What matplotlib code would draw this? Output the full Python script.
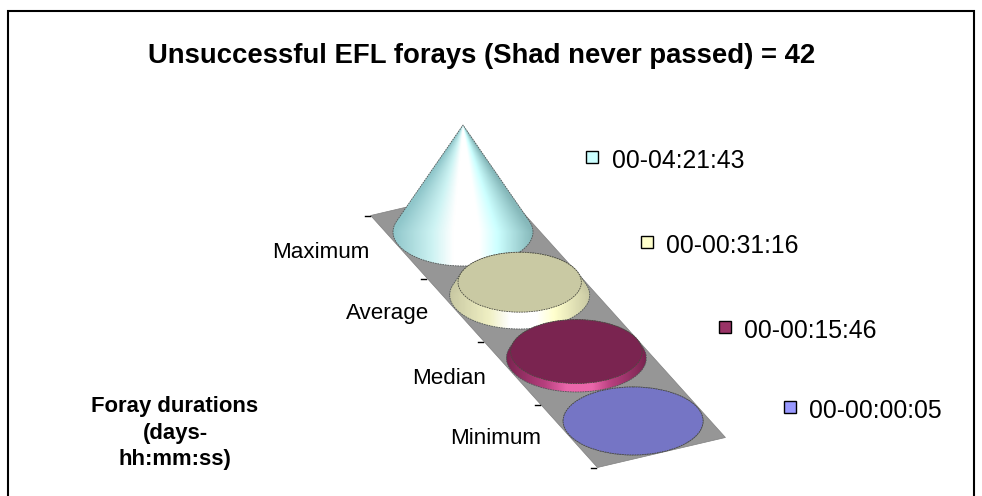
import numpy as np
import matplotlib as mpl
mpl.use('agg')
import matplotlib.pyplot as plt
from matplotlib.colors import LinearSegmentedColormap
from matplotlib.patches import Ellipse, Polygon, Rectangle

plt.rcParams['font.family'] = ['Liberation Sans', 'DejaVu Sans']

title = "Unsuccessful EFL forays (Shad never passed) = 42"
axis_title = "Foray durations\n(days-\nhh:mm:ss)"
categories = ["Maximum", "Average", "Median", "Minimum"]
durations = ["00-04:21:43", "00-00:31:16", "00-00:15:46", "00-00:00:05"]
key_colors = ["#CCFFFF", "#FFFFCC", "#993366", "#9999FF"]
top_colors = ["#CCFFFF", "#C9C9A3", "#7A2450", "#7575C5"]
side_stops = [0.0, 0.28, 0.43, 0.62, 0.75, 1.0]
side_colors = [
    ["#8FC6CA", "#CDF3F3", "#FFFFFF", "#FFFFFF", "#CCFFFF", "#86B8BA"],
    ["#C9C9A3", "#F0F0C4", "#FFFFFF", "#FFFFFF", "#FFFFCC", "#C9C9A3"],
    ["#7A2450", "#B8407F", "#EA66AA", "#EA66AA", "#B8407F", "#7A2450"],
    ["#7575C5", "#7575C5", "#7575C5", "#7575C5", "#7575C5", "#7575C5"],
]


def to_seconds(text):
    days, clock = text.split("-")
    h, m, s = clock.split(":")
    return int(days)*86400 + int(h)*3600 + int(m)*60 + int(s)


seconds = np.array([to_seconds(d) for d in durations], dtype=float)

#######################################
##Fake 3D projection of the chart floor
#######################################
origin = np.array([463.0, 232.0])
step = np.array([56.7, 63.0])
cross = np.array([64.0, -15.0])
rx, ry = 70.0, 34.0
cone_height = 107.0


def floor(pos, side=0.0):
    return origin + pos*step + side*cross


def ring(center, scale):
    t = np.linspace(0, 2*np.pi, 120, endpoint=False)
    return np.column_stack([center[0] + scale*rx*np.cos(t), center[1] + scale*ry*np.sin(t)])


def hull(pts):
    pts = sorted(map(tuple, pts))
    def half(seq):
        out = []
        for p in seq:
            while len(out) > 1:
                a = np.subtract(out[-1], out[-2])
                b = np.subtract(p, out[-2])
                if a[0]*b[1] - a[1]*b[0] > 0:
                    break
                out.pop()
            out.append(p)
        return out[:-1]
    return np.array(half(pts) + half(pts[::-1]))


def side_shading(base, top_y):
    # shade across the local width, so the bands run up to the apex
    xs = np.linspace(base[0] - rx, base[0] + rx, 280)
    ys = np.linspace(top_y - ry, base[1] + ry, 300)
    gx, gy = np.meshgrid(xs, ys)
    width = rx*(1 - np.clip(base[1] - gy, 0, cone_height - 1)/cone_height)
    return np.clip((gx - base[0])/width/2 + 0.5, 0, 1)


fig = plt.figure(figsize=(9.82, 4.96), dpi=100)
ax = fig.add_axes([0, 0, 1, 1])

# floor
corners = [floor(-0.5, -1), floor(-0.5, 1), floor(3.5, 1), floor(3.5, -1)]
ax.add_patch(Polygon(corners, closed=True, fc="#969696", ec="#808080", lw=0.5, zorder=1))

# ticks on the front edge of the floor
for i in np.arange(len(categories) + 1) - 0.5:
    p = floor(i, -1)
    ax.plot([p[0] - 6, p[0] - 1], [p[1], p[1]], color="black", lw=1.0, zorder=1)

# truncated cones, back to front
for i, val in enumerate(seconds):
    frac = val/seconds.max()
    base = floor(i)
    top = base - np.array([0.0, frac*cone_height])
    outline = hull(np.vstack([ring(base, 1.0), ring(top, 1.0 - frac)]))
    z = 2 + i
    cmap = LinearSegmentedColormap.from_list("side%d" % i, list(zip(side_stops, side_colors[i])))
    im = ax.imshow(side_shading(base, top[1]), cmap=cmap, vmin=0, vmax=1, aspect="auto", interpolation="bilinear",
                   origin="upper", extent=(base[0] - rx, base[0] + rx, base[1] + ry, top[1] - ry), zorder=z)
    shape = Polygon(outline, closed=True, fc="none", ec="#505656", lw=0.6, ls=(0, (2, 1)), zorder=z + 0.2)
    ax.add_patch(shape)
    im.set_clip_path(shape)
    if frac < 1:
        ax.add_patch(Ellipse(top, 2*rx*(1 - frac), 2*ry*(1 - frac), fc=top_colors[i], ec="#4A4A40", lw=0.6,
                             ls=(0, (2, 1)), zorder=z + 0.3))

# category labels
label_right = [370, 429, 486, 541]
label_y = [253, 314, 378, 438]
for name, x, y in zip(categories, label_right, label_y):
    ax.text(x, y, name, ha="right", va="center", fontsize=16.1, color="black", zorder=10)

# data labels with their keys
key_x = [592.5, 647, 725, 790]
key_y = [157, 242, 327, 407]
for d, c, x, y in zip(durations, key_colors, key_x, key_y):
    ax.add_patch(Rectangle((x - 6, y - 6), 12, 12, fc=c, ec="black", lw=1.0, zorder=10))
    ax.text(x + 19.5, y + 4, d, ha="left", va="center", fontsize=17.8, color="black", zorder=10)

ax.text(481.5, 56, title, ha="center", va="center", fontsize=19.8, fontweight="bold", color="black")
ax.text(175, 433, axis_title, ha="center", va="center", fontsize=15.9, fontweight="bold", color="black",
        linespacing=1.33)

# chart frame, open at the bottom where the picture is cut off
ax.plot([8, 8, 974, 974], [500, 11, 11, 500], color="black", lw=1.5, solid_joinstyle="miter")

ax.set_xlim(0, 982)
ax.set_ylim(496, 0)
ax.axis("off")
fig.savefig("out.png", dpi=100, facecolor="white")
